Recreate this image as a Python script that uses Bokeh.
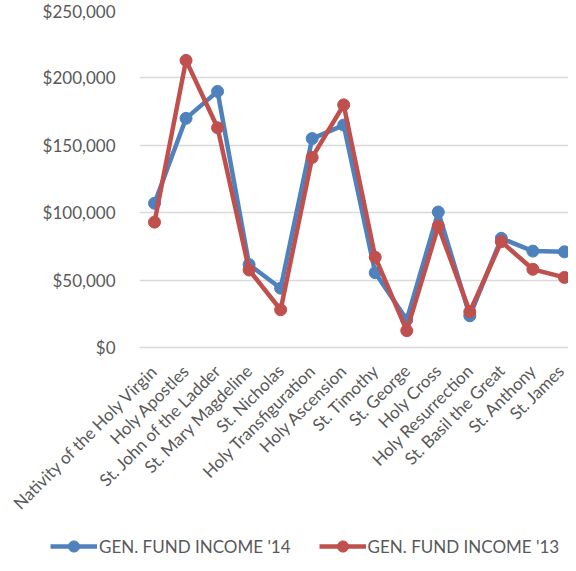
from bokeh.plotting import figure
from bokeh.layouts import column
from bokeh.models import (Range1d, FixedTicker, NumeralTickFormatter, Legend, LegendItem,
                          ColumnDataSource)
from bokeh.embed import file_html
from bokeh.resources import INLINE
import math

categories = ["Nativity of the Holy Virgin", "Holy Apostles", "St. John of the Ladder",
              "St. Mary Magdeline", "St. Nicholas", "Holy Transfiguration", "Holy Ascension",
              "St. Timothy", "St. George", "Holy Cross", "Holy Resurrection",
              "St. Basil the Great", "St. Anthony", "St. James"]
income_14 = [107000, 170000, 190000, 61500, 44000, 155000, 165000,
             55500, 20500, 100500, 23500, 81000, 71500, 71000]
income_13 = [93000, 213000, 163000, 57500, 28000, 141000, 180000,
             67000, 12500, 90000, 26500, 78500, 58000, 52000]
y_ticks = [0, 50000, 100000, 150000, 200000, 250000]
series_labels = ["GEN. FUND INCOME '14", "GEN. FUND INCOME '13"]

FONT = "Lato"
GRAY = "#595959"
BLUE = "#4F81BD"
RED = "#C0504D"
W = 568
H1 = 530
H2 = 25
LEFT = 139

idx = list(range(len(categories)))
src = ColumnDataSource(dict(x=idx, y14=income_14, y13=income_13))

p = figure(width=W, height=H1, output_backend="svg", toolbar_location=None,
           x_range=Range1d(-0.476, 13.13), y_range=Range1d(0, 250000),
           min_border_left=LEFT, min_border_right=0, min_border_top=10,
           min_border_bottom=H1 - 347)
p.frame_align = False
p.outline_line_color = None
p.background_fill_color = "white"
p.border_fill_color = "white"

# y axis
p.yaxis.ticker = FixedTicker(ticks=y_ticks)
p.yaxis.formatter = NumeralTickFormatter(format="$0,0")
p.yaxis.axis_line_color = None
p.yaxis.major_tick_line_color = None
p.yaxis.minor_tick_line_color = None
p.yaxis.major_label_standoff = 18
p.yaxis.major_label_text_font = FONT
p.yaxis.major_label_text_font_size = "17px"
p.yaxis.major_label_text_color = GRAY

# x axis
p.xaxis.ticker = FixedTicker(ticks=idx)
p.xaxis.major_label_overrides = {i: c for i, c in enumerate(categories)}
p.xaxis.major_label_orientation = math.pi / 4
p.xaxis.axis_line_color = "#D9D9D9"
p.xaxis.axis_line_width = 1.5
p.xaxis.major_tick_line_color = None
p.xaxis.minor_tick_line_color = None
p.xaxis.major_label_standoff = 14
p.xaxis.major_label_text_font = FONT
p.xaxis.major_label_text_font_size = "17px"
p.xaxis.major_label_text_color = GRAY

p.xgrid.grid_line_color = None
p.ygrid.grid_line_color = "#D9D9D9"
p.ygrid.grid_line_width = 1.5

p.line("x", "y14", source=src, line_color=BLUE, line_width=4.5)
p.scatter("x", "y14", source=src, size=12, fill_color=BLUE, line_color=BLUE)
p.line("x", "y13", source=src, line_color=RED, line_width=4.5)
p.scatter("x", "y13", source=src, size=12, fill_color=RED, line_color=RED)

# legend strip below the chart (its proxy renderers sit outside the visible range)
p2 = figure(width=W, height=H2, output_backend="svg", toolbar_location=None,
            x_range=Range1d(0, 1), y_range=Range1d(0, 1),
            x_axis_type=None, y_axis_type=None,
            min_border_left=0, min_border_right=0, min_border_top=0, min_border_bottom=0)
p2.frame_align = False
p2.outline_line_color = None
p2.border_fill_color = None
p2.background_fill_color = None
p2.grid.visible = False
off = dict(x=[5, 6], y=[5, 6])
dl14 = p2.line(off["x"], off["y"], line_color=BLUE, line_width=4.5)
ds14 = p2.scatter(off["x"], off["y"], size=12, fill_color=BLUE, line_color=BLUE)
dl13 = p2.line(off["x"], off["y"], line_color=RED, line_width=4.5)
ds13 = p2.scatter(off["x"], off["y"], size=12, fill_color=RED, line_color=RED)

legend = Legend(items=[LegendItem(label=series_labels[0], renderers=[dl14, ds14]),
                       LegendItem(label=series_labels[1], renderers=[dl13, ds13])],
                location=(50, -5), orientation="horizontal",
                glyph_width=47, glyph_height=28, label_height=16, label_standoff=2, spacing=28,
                padding=0, margin=0, border_line_color=None, background_fill_alpha=0,
                label_text_font=FONT, label_text_font_size="17px", label_text_color=GRAY)
p2.add_layout(legend, "center")

layout = column(p, p2, spacing=0)
open("out.html", "w").write(file_html(layout, INLINE))
